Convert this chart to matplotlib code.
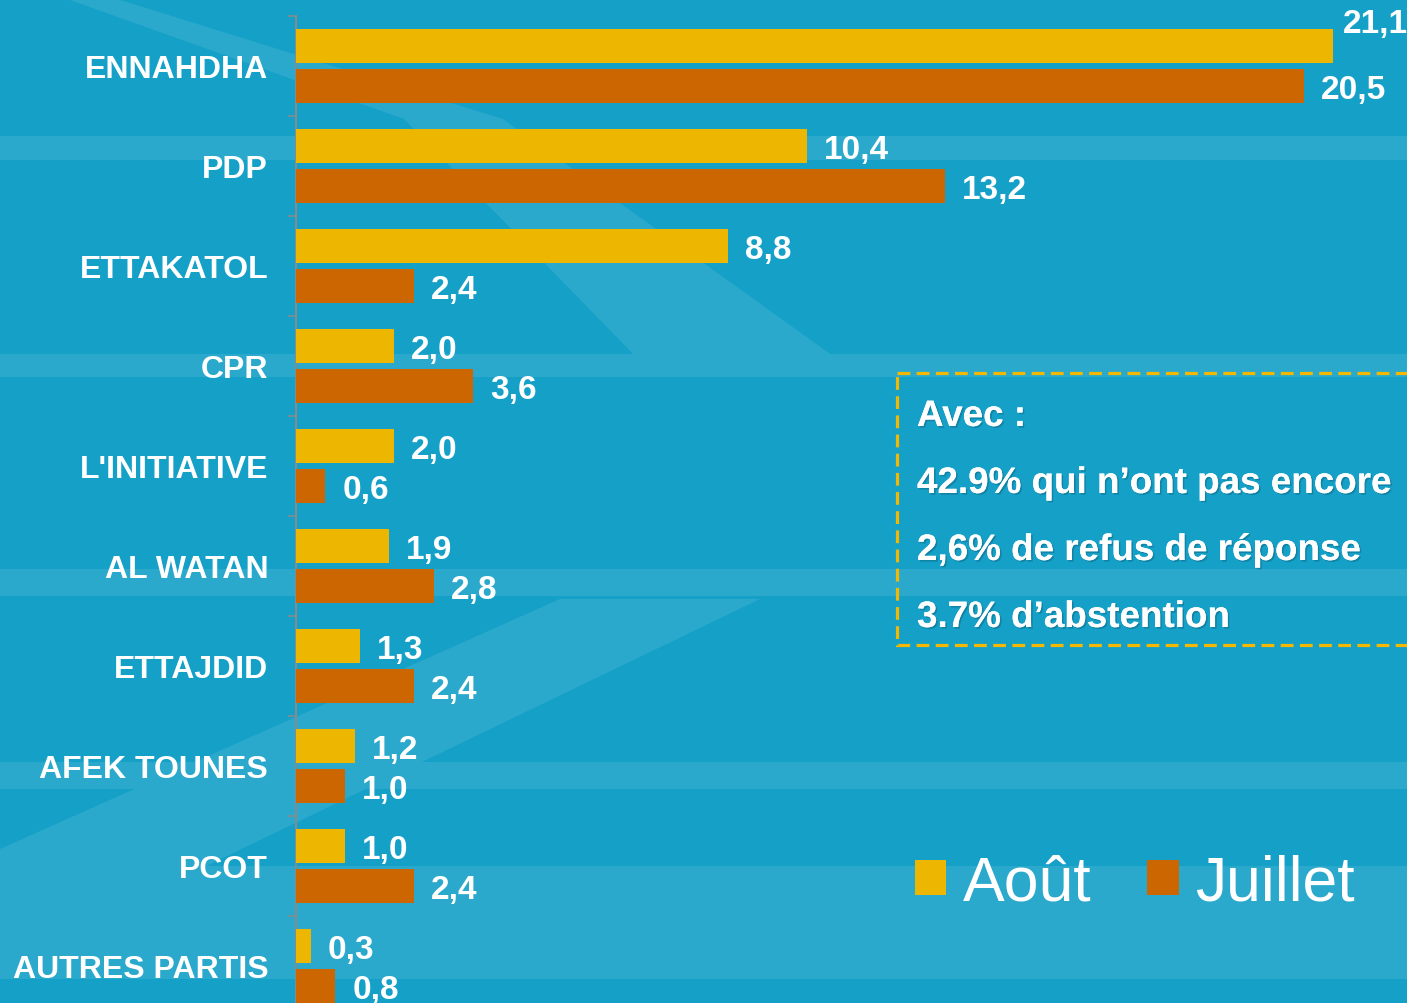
import matplotlib
matplotlib.use("Agg")
import matplotlib.pyplot as plt
import matplotlib.patheffects as pe
from matplotlib.patches import Polygon, Rectangle, Patch

plt.rcParams['font.family'] = ['Liberation Sans', 'DejaVu Sans']

# ---------------- data ----------------
categories = ["ENNAHDHA", "PDP", "ETTAKATOL", "CPR", "L'INITIATIVE",
              "AL WATAN", "ETTAJDID", "AFEK TOUNES", "PCOT", "AUTRES PARTIS"]
aout = [21.1, 10.4, 8.8, 2.0, 2.0, 1.9, 1.3, 1.2, 1.0, 0.3]
juillet = [20.5, 13.2, 2.4, 3.6, 0.6, 2.8, 2.4, 1.0, 2.4, 0.8]
series_names = ["Août", "Juillet"]
note_lines = ["Avec :",
              "42.9% qui n’ont pas encore",
              "2,6% de refus de réponse",
              "3.7% d’abstention"]

# ---------------- style ----------------
BASE = '#15a0c8'
LIGHT = '#2aa9cc'
YELLOW = '#edb600'
ORANGE = '#cc6600'
W, H = 1407, 1004

fig = plt.figure(figsize=(W / 100, H / 100), dpi=100)
fig.patch.set_facecolor(BASE)

# decorative background in pixel coordinates
bg = fig.add_axes([0, 0, 1, 1], zorder=0)
bg.set_xlim(0, W)
bg.set_ylim(H, 0)
bg.axis('off')
for (y0, y1) in [(137, 161), (355, 378), (570, 597), (763, 790), (867, 980)]:
    bg.add_patch(Rectangle((0, y0), W, y1 - y0, facecolor=LIGHT, edgecolor='none'))
bg.add_patch(Polygon([(117, 0), (503, 120), (840, 362), (640, 362), (404, 120), (67, 0)],
                     closed=True, facecolor=LIGHT, edgecolor='none'))
bg.add_patch(Polygon([(0, 850), (560, 600), (760, 600), (200, 870), (0, 870)],
                     closed=True, facecolor=LIGHT, edgecolor='none'))

# ---------------- main chart ----------------
ax_left = 296 / W
ax_w = (W - 296) / W
ax = fig.add_axes([ax_left, (H - 1017) / H, ax_w, 1000 / H], zorder=2)
ax.set_facecolor('none')
px_per_unit = 1037 / 21.1
ax.set_xlim(0, (W - 296) / px_per_unit)
n = len(categories)
ax.set_ylim(n - 0.5, -0.5)

pos = list(range(n))
bh = 0.34
off = 0.2
ax.barh([p - off for p in pos], aout, height=bh, color=YELLOW, edgecolor='none', zorder=3)
ax.barh([p + off for p in pos], juillet, height=bh, color=ORANGE, edgecolor='none', zorder=3)

def fmt(v):
    return f"{v:.1f}".replace('.', ',')

xmax = ax.get_xlim()[1]
for p, v in zip(pos, aout):
    dx, dy = 12.2, -2.5
    if v > 0.92 * xmax:
        dx, dy = 7.2, 16
    ax.annotate(fmt(v), xy=(v, p - off), xytext=(dx, dy), textcoords='offset points',
                ha='left', va='center', color='white', fontsize=24, fontweight='bold',
                annotation_clip=False, zorder=5)
for p, v in zip(pos, juillet):
    ax.annotate(fmt(v), xy=(v, p + off), xytext=(12.2, -2.5), textcoords='offset points',
                ha='left', va='center', color='white', fontsize=24, fontweight='bold',
                annotation_clip=False, zorder=5)

ax.set_yticks(pos)
ax.set_yticklabels(categories, color='white', fontsize=23, fontweight='bold')
ax.set_yticks([p - 0.5 for p in pos] + [n - 0.5], minor=True)
ax.tick_params(axis='y', which='major', length=0, pad=20)
ax.tick_params(axis='y', which='minor', length=5.8, width=1.1, color='#8a8a8a', direction='out')
ax.set_xticks([])
for s in ['top', 'right', 'bottom']:
    ax.spines[s].set_visible(False)
ax.spines['left'].set_color('#8a8a8a')
ax.spines['left'].set_linewidth(1.4)

# ---------------- note box ----------------
ov = fig.add_axes([0, 0, 1, 1], zorder=4)
ov.set_xlim(0, W)
ov.set_ylim(H, 0)
ov.axis('off')
ov.add_patch(Rectangle((897, 374), 560, 272, facecolor='none', edgecolor='#f5b800',
                       linewidth=2.3, linestyle=(0, (4, 2)), clip_on=False))
shadow = [pe.withSimplePatchShadow(offset=(1.2, -1.2), shadow_rgbFace='#0a4f66', alpha=0.35),
          pe.Normal()]
for txt, yb in zip(note_lines, [427, 494, 561, 628]):
    ov.text(917, yb, txt, ha='left', va='baseline', color='white', fontsize=26.5,
            fontweight='bold', path_effects=shadow)

# ---------------- legend ----------------
handles = [Patch(facecolor=YELLOW, edgecolor='none'), Patch(facecolor=ORANGE, edgecolor='none')]
leg = fig.legend(handles, series_names, loc='center left',
                 bbox_to_anchor=(915 / W, 1 - 884 / H), bbox_transform=fig.transFigure,
                 ncol=2, frameon=False, fontsize=45, handlelength=0.5, handleheight=0.5,
                 handletextpad=0.26, columnspacing=0.9, borderpad=0, borderaxespad=0)
for t in leg.get_texts():
    t.set_color('white')
leg.set_zorder(6)

fig.savefig('out.png', dpi=100, facecolor=fig.get_facecolor())
